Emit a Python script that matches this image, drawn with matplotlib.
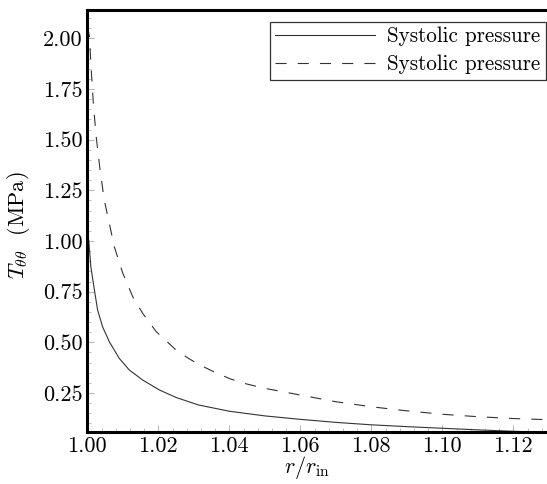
import numpy as np
import matplotlib
matplotlib.use('Agg')
import matplotlib.pyplot as plt
from matplotlib.ticker import MultipleLocator, FormatStrFormatter

plt.rcParams['font.family'] = 'cmr10'
plt.rcParams['mathtext.fontset'] = 'cm'
plt.rcParams['axes.formatter.use_mathtext'] = True

# solid curve
r_solid = [1.0, 1.0004, 1.0010, 1.0020, 1.0029, 1.0043, 1.0062, 1.0090, 1.0118,
           1.0156, 1.0203, 1.0250, 1.0313, 1.04, 1.05, 1.06, 1.07, 1.08, 1.09,
           1.10, 1.11, 1.12, 1.13]
t_solid = [1.03, 1.005, 0.873, 0.758, 0.660, 0.577, 0.503, 0.421, 0.364,
           0.314, 0.265, 0.228, 0.191, 0.160, 0.137, 0.120, 0.105, 0.093, 0.084,
           0.076, 0.068, 0.061, 0.056]

# dashed curve
r_dash = [1.0, 1.0006, 1.0010, 1.0017, 1.0025, 1.0036, 1.0048, 1.0062, 1.0076,
          1.0100, 1.0128, 1.0156, 1.0194, 1.0250, 1.0284, 1.0313, 1.035, 1.0402,
          1.045, 1.05, 1.06, 1.07, 1.08, 1.09, 1.10, 1.11, 1.12, 1.13]
t_dash = [2.06, 2.01, 1.877, 1.68, 1.515, 1.35, 1.20, 1.087, 0.972,
          0.841, 0.725, 0.643, 0.553, 0.462, 0.422, 0.392, 0.360, 0.320,
          0.294, 0.273, 0.240, 0.207, 0.182, 0.162, 0.145, 0.133, 0.124, 0.118]

fig = plt.figure(figsize=(5.47, 4.84), dpi=100)
ax = fig.add_axes([87.3 / 547, 1 - 431.5 / 484, (548.8 - 87.3) / 547, (431.5 - 10) / 484])

ax.plot(r_solid, t_solid, color='#333333', lw=0.8, label='Systolic pressure')
ax.plot(r_dash, t_dash, color='#333333', lw=0.8, dashes=(10, 10), label='Systolic pressure')

ax.set_xlim(1.0, 1.13)
ax.set_ylim(0.06, 2.14)

ax.xaxis.set_major_locator(MultipleLocator(0.02))
ax.xaxis.set_minor_locator(MultipleLocator(0.004))
ax.yaxis.set_minor_locator(MultipleLocator(0.05))
ax.xaxis.set_major_formatter(FormatStrFormatter('%.2f'))
ax.yaxis.set_major_formatter(FormatStrFormatter('%.2f'))
ax.set_yticks([0.25, 0.5, 0.75, 1.0, 1.25, 1.5, 1.75, 2.0])

ax.tick_params(which='both', direction='in', color='#b8b8b8', labelsize=16,
               top=False, right=False)
ax.tick_params(which='major', length=5, width=0.8, pad=3.5)
ax.tick_params(which='minor', length=3, width=0.6)

for s in ax.spines.values():
    s.set_linewidth(2.2)
    s.set_color('black')

ax.set_xlabel(r'$r/r_{\mathrm{in}}$', fontsize=16)
ax.xaxis.set_label_coords((307 - 87.3) / (548.8 - 87.3), -(481 - 431.5) / (431.5 - 10))
ax.xaxis.label.set_va('bottom')
ax.set_ylabel(r'$T_{\theta\theta}$  (MPa)', fontsize=16)
ax.yaxis.set_label_coords(-(87.3 - 18) / (548.8 - 87.3), (431.5 - 225) / (431.5 - 10))
ax.yaxis.label.set_va('center')

leg = ax.legend(loc='upper right', bbox_to_anchor=(545.5 / 547, 1 - 21.5 / 484),
                bbox_transform=fig.transFigure, fontsize=15.2, frameon=True,
                fancybox=False, edgecolor='#333333', framealpha=1,
                handlelength=4.75, borderpad=0.25, labelspacing=0.4,
                handletextpad=0.55, borderaxespad=0)
leg.get_frame().set_linewidth(0.9)

fig.savefig('out.png', dpi=100)
